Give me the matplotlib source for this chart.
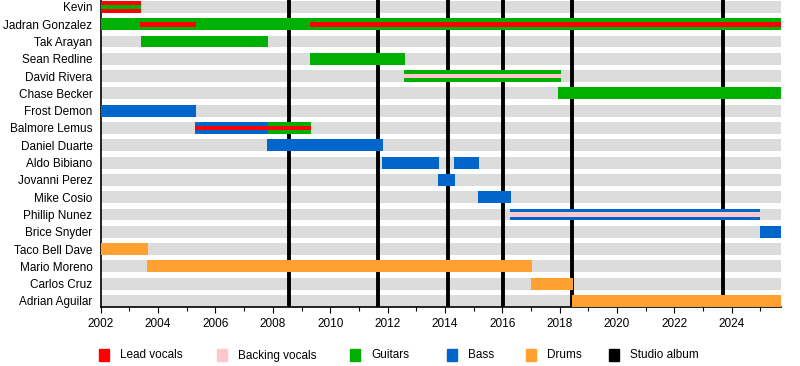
import matplotlib
matplotlib.use("Agg")
import matplotlib.pyplot as plt
from matplotlib.patches import Rectangle
from matplotlib.ticker import MultipleLocator

plt.rcParams['font.family'] = ['Liberation Sans', 'DejaVu Sans']

members = ["Kevin", "Jadran Gonzalez", "Tak Arayan", "Sean Redline", "David Rivera",
           "Chase Becker", "Frost Demon", "Balmore Lemus", "Daniel Duarte",
           "Aldo Bibiano", "Jovanni Perez", "Mike Cosio", "Phillip Nunez",
           "Brice Snyder", "Taco Bell Dave", "Mario Moreno", "Carlos Cruz",
           "Adrian Aguilar"]

roles = ["Lead vocals", "Backing vocals", "Guitars", "Bass", "Drums", "Studio album"]
role_colors = ["#ff0000", "#ffc8cc", "#00b000", "#0066cc", "#ffa030", "#000000"]

start_year = 2002.0
end_year = 2025.71

# main bars
bar_member = ["Kevin", "Jadran Gonzalez", "Tak Arayan", "Sean Redline", "David Rivera",
              "Chase Becker", "Frost Demon", "Balmore Lemus", "Balmore Lemus",
              "Daniel Duarte", "Aldo Bibiano", "Aldo Bibiano", "Jovanni Perez",
              "Mike Cosio", "Phillip Nunez", "Brice Snyder", "Taco Bell Dave",
              "Mario Moreno", "Carlos Cruz", "Adrian Aguilar"]
bar_start = [2002.0, 2002.0, 2003.4, 2009.29, 2012.57, 2017.93, 2002.0, 2005.29, 2007.82,
             2007.78, 2011.8, 2014.31, 2013.75, 2015.15, 2016.27, 2024.98, 2002.0,
             2003.61, 2017.0, 2018.43]
bar_end = [2003.4, end_year, 2007.82, 2012.6, 2018.04, end_year, 2005.31, 2007.82, 2009.33,
           2011.83, 2013.79, 2015.18, 2014.34, 2016.3, 2025.0, end_year, 2003.64,
           2017.03, 2018.46, end_year]
bar_role = ["Lead vocals", "Guitars", "Guitars", "Guitars", "Guitars", "Guitars", "Bass",
            "Bass", "Guitars", "Bass", "Bass", "Bass", "Bass", "Bass", "Bass", "Bass",
            "Drums", "Drums", "Drums", "Drums"]

# thin bars drawn in the middle of a main bar
thin_member = ["Kevin", "Jadran Gonzalez", "Jadran Gonzalez", "David Rivera",
               "Balmore Lemus", "Phillip Nunez"]
thin_start = [2002.0, 2003.37, 2009.29, 2012.57, 2005.29, 2016.27]
thin_end = [2003.4, 2005.31, end_year, 2018.04, 2009.33, 2025.0]
thin_role = ["Guitars", "Lead vocals", "Lead vocals", "Backing vocals", "Lead vocals",
             "Backing vocals"]

albums = [2008.57, 2011.67, 2014.11, 2016.03, 2018.43, 2023.69]

color_of = dict(zip(roles, role_colors))
row_of = {m: i for i, m in enumerate(members)}

fig = plt.figure(figsize=(8, 3.66), dpi=100)
ax = fig.add_axes([0.1259, 1 - 306.5 / 366, 0.976 - 0.1259, 306.5 / 366])

bar_h = 0.69
thin_h = 0.27

for i, m in enumerate(members):
    ax.barh(i, end_year - start_year, left=start_year, height=bar_h,
            color="#dcdcdc", zorder=1)

for a in albums:
    ax.axvline(a, color="black", lw=2.8, zorder=2)

for m, s, e, r in zip(bar_member, bar_start, bar_end, bar_role):
    ax.barh(row_of[m], e - s, left=s, height=bar_h, color=color_of[r], zorder=3)

for m, s, e, r in zip(thin_member, thin_start, thin_end, thin_role):
    ax.barh(row_of[m], e - s, left=s, height=thin_h, color=color_of[r], zorder=4)

ax.set_xlim(start_year, end_year)
ax.set_ylim(len(members) - 1 + 0.32, -0.4)
ax.set_yticks(range(len(members)))
ax.set_yticklabels(members, fontsize=8.5)
ax.tick_params(axis="y", length=0, pad=6)
ax.xaxis.set_major_locator(MultipleLocator(2))
ax.xaxis.set_minor_locator(MultipleLocator(1))
ax.tick_params(axis="x", which="major", length=4, width=0.8, labelsize=8.5, pad=4)
ax.tick_params(axis="x", which="minor", length=3, width=0.8)
for sp in ["top", "right"]:
    ax.spines[sp].set_visible(False)
ax.spines["left"].set_linewidth(1.2)
ax.spines["bottom"].set_linewidth(1.2)

# legend along the bottom
legend_x = [99, 217, 350, 447, 526, 609]
for lx, name, col in zip(legend_x, roles, role_colors):
    fig.patches.append(Rectangle((lx / 800, 1 - 361 / 366), 10 / 800, 12 / 366,
                                 transform=fig.transFigure, color=col))
    fig.text((lx + 21) / 800, 1 - 355.5 / 366, name, fontsize=8.5, va="center")

fig.savefig("out.png", dpi=100)
